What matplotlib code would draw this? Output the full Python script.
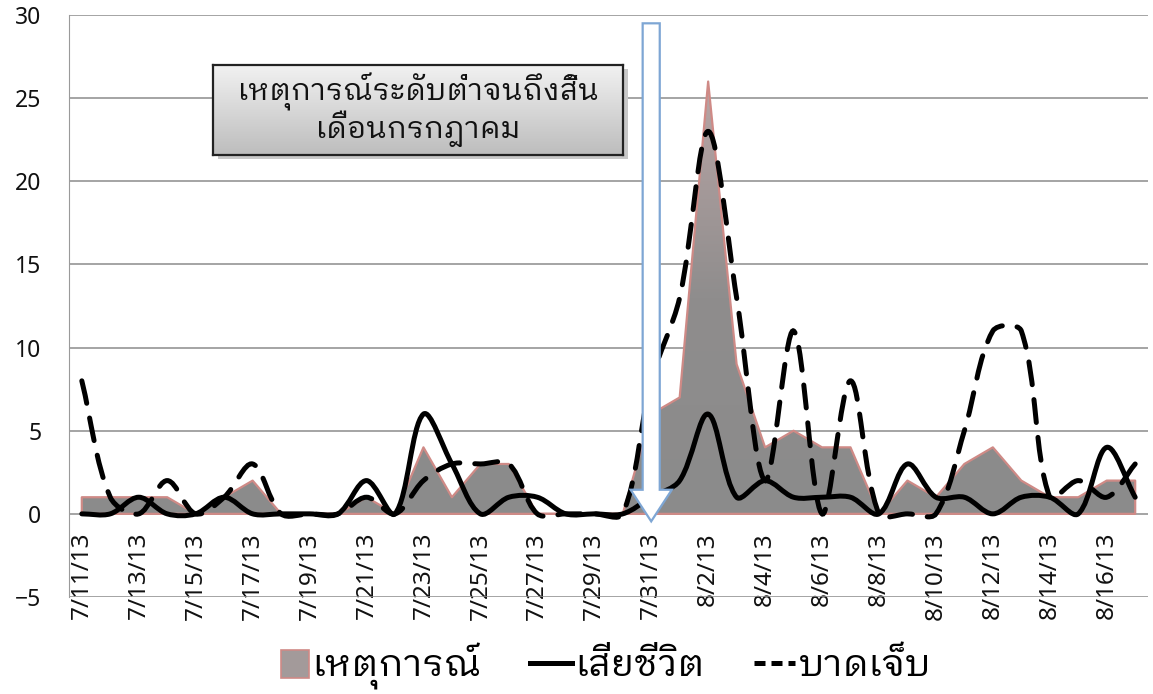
import matplotlib
matplotlib.use("Agg")
import matplotlib.pyplot as plt
import numpy as np
from matplotlib.path import Path
from matplotlib.patches import PathPatch, FancyArrow, Patch, Rectangle
from matplotlib.lines import Line2D
from matplotlib.legend_handler import HandlerPatch
from matplotlib.colors import LinearSegmentedColormap

plt.rcParams['font.family'] = ['Noto Sans', 'IBM Plex Sans Thai Looped']
THAI = ['IBM Plex Sans Thai Looped', 'Noto Sans Thai Looped', 'Noto Sans']

dates = ['7/11/13', '7/12/13', '7/13/13', '7/14/13', '7/15/13', '7/16/13', '7/17/13',
         '7/18/13', '7/19/13', '7/20/13', '7/21/13', '7/22/13', '7/23/13', '7/24/13',
         '7/25/13', '7/26/13', '7/27/13', '7/28/13', '7/29/13', '7/30/13', '7/31/13',
         '8/1/13', '8/2/13', '8/3/13', '8/4/13', '8/5/13', '8/6/13', '8/7/13',
         '8/8/13', '8/9/13', '8/10/13', '8/11/13', '8/12/13', '8/13/13', '8/14/13',
         '8/15/13', '8/16/13', '8/17/13']
events = [1, 1, 1, 1, 0, 1, 2, 0, 0, 0,
          1, 0, 4, 1, 3, 3, 0, 0, 0, 0, 6,
          7, 26, 9, 4, 5, 4, 4, 0, 2, 1,
          3, 4, 2, 1, 1, 2, 2]
deaths = [0, 0, 1, 0, 0, 1, 0, 0, 0, 0,
          2, 0, 6, 3, 0, 1, 1, 0, 0, 0, 1,
          2, 6, 1, 2, 1, 1, 1, 0, 3, 1,
          1, 0, 1, 1, 0, 4, 1]
injured = [8, 1, 0, 2, 0, 1, 3, 0, 0, 0,
           1, 0, 2, 3, 3, 3, 0, 0, 0, 0, 8,
           13, 23, 13, 2, 11, 0, 8, 0, 0, 0,
           5, 11, 11, 1, 2, 1, 3]
series_names = ['เหตุการณ์', 'เสียชีวิต', 'บาดเจ็บ']
note = 'เหตุการณ์ระดับต่ำจนถึงสิ้น\nเดือนกรกฎาคม'
note_date = '7/31/13'

fig = plt.figure(figsize=(11.53, 6.94), dpi=100)
ax = fig.add_axes([69 / 1153, 1 - 597 / 694, (1148 - 69) / 1153, 582 / 694])
ax.set_xlim(-0.45, len(dates) - 0.55)
ax.set_ylim(-5, 30)

x = np.arange(len(dates))


def smooth_path(ys, t=1 / 3):
    # excel-like smoothing, done in screen space so steep parts don't overshoot much
    pts = ax.transData.transform(np.column_stack([x, ys]).astype(float))
    n = len(pts)
    verts = [pts[0]]
    codes = [Path.MOVETO]
    for i in range(n - 1):
        p0 = pts[max(i - 1, 0)]
        p1 = pts[i]
        p2 = pts[i + 1]
        p3 = pts[min(i + 2, n - 1)]
        l01 = np.hypot(*(p1 - p0))
        l12 = np.hypot(*(p2 - p1))
        l23 = np.hypot(*(p3 - p2))
        c1 = p1 + (p2 - p0) * t * l12 / (l01 + l12)
        c2 = p2 - (p3 - p1) * t * l12 / (l12 + l23)
        verts += [c1, c2, p2]
        codes += [Path.CURVE4] * 3
    verts = ax.transData.inverted().transform(np.array(verts))
    return Path(verts, codes)


# area with gradient
poly = ax.fill_between(x, 0, events, facecolor='none', edgecolor='#cf8a86', linewidth=1.6, zorder=3)
grad = np.linspace(0, 1, 256).reshape(-1, 1)
cmap = LinearSegmentedColormap.from_list('g', ['#8b8b8b', '#8f8d8d', '#b9a5a5'])
im = ax.imshow(grad, extent=[-0.5, len(dates), 0, max(events)], origin='lower',
               aspect='auto', cmap=cmap, zorder=2)
im.set_clip_path(poly.get_paths()[0], transform=ax.transData)

ax.add_patch(PathPatch(smooth_path(deaths), fill=False, edgecolor='black',
                       linewidth=3.6, zorder=4, capstyle='round', joinstyle='round'))
ax.add_patch(PathPatch(smooth_path(injured), fill=False, edgecolor='black',
                       linewidth=3.6, linestyle=(0, (4.6, 3.0)), zorder=5, capstyle='round'))

# arrow
xa = dates.index(note_date)
ax.add_patch(FancyArrow(xa, 29.5, 0, -29.95, width=0.6, head_width=1.45, head_length=1.9,
                        length_includes_head=True, facecolor='white', edgecolor='#7ea6d4',
                        linewidth=1.6, zorder=6))

ax.set_yticks(range(-5, 31, 5))
ax.grid(axis='y', color='#8c8c8c', linewidth=1.1)
ax.set_axisbelow(True)
for s in ['top', 'right']:
    ax.spines[s].set_visible(False)
ax.spines['bottom'].set_position(('data', 0))
ax.spines['bottom'].set_visible(False)
ax.spines['left'].set_color('#9a9a9a')
ax.set_xticks(x[::2])
ax.set_xticklabels(dates[::2], rotation=90, va='top', ha='center')
ax.tick_params(axis='x', length=0, pad=13, labelsize=17.5, colors='#111111')
ax.tick_params(axis='y', length=0, pad=20, labelsize=16.5, colors='#111111')

# annotation box
sh = fig.add_axes([0.1847 + 0.004, 0.7767 - 0.006, 0.3556, 0.1297])
sh.set_facecolor('#c8c8c8')
sh.set_xticks([]); sh.set_yticks([])
for s in sh.spines.values():
    s.set_visible(False)
bx = fig.add_axes([0.1847, 0.7767, 0.3556, 0.1297])
bx.imshow(np.linspace(0, 1, 100).reshape(-1, 1), aspect='auto', origin='upper',
          cmap=LinearSegmentedColormap.from_list('b', ['#f2f2f2', '#bdbdbd']), extent=[0, 1, 0, 1])
bx.set_xticks([]); bx.set_yticks([])
for s in bx.spines.values():
    s.set_linewidth(1.6)
    s.set_color('#222222')
bx.text(0.5, 0.5, note, ha='center', va='center', fontsize=21.5, family=THAI,
        linespacing=1.0, color='#111111', transform=bx.transAxes)


def square_patch(legend, orig_handle, xdescent, ydescent, width, height, fontsize):
    s = height * 1.05
    return Rectangle((-xdescent + width - s, -ydescent - 0.05 * height), s, s)


handles = [Patch(facecolor='#a39a9a', edgecolor='#cf8a86', linewidth=1.2),
           Line2D([], [], color='black', linewidth=3.6),
           Line2D([], [], color='black', linewidth=3.6, linestyle=(0, (2.2, 1.2)))]
leg = fig.legend(handles, series_names, loc='center', bbox_to_anchor=(0.52, 0.04), ncol=3,
                 frameon=False, prop={'family': THAI, 'size': 27}, handlelength=1.1,
                 handleheight=0.7, handletextpad=0.1, columnspacing=1.3,
                 handler_map={Patch: HandlerPatch(patch_func=square_patch)})

fig.savefig('out.png')
